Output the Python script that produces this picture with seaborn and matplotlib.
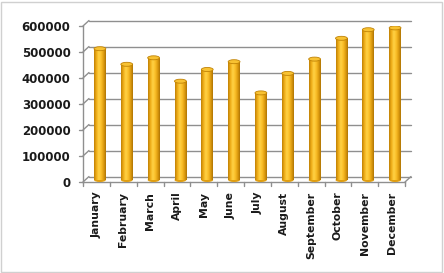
import numpy as np
import pandas as pd
import matplotlib
matplotlib.use("Agg")
import matplotlib.pyplot as plt
import matplotlib.transforms as mtransforms
from matplotlib.colors import LinearSegmentedColormap
from matplotlib.patches import Ellipse, Rectangle
from matplotlib.lines import Line2D
import seaborn as sns

months = ["January", "February", "March", "April", "May", "June", "July",
          "August", "September", "October", "November", "December"]
values = [505000, 445000, 470000, 380000, 425000, 455000, 335000,
          410000, 465000, 545000, 578000, 585000]
yticks = [0, 100000, 200000, 300000, 400000, 500000, 600000]

df = pd.DataFrame({"month": months, "value": values})

sns.set_style("white")
plt.rcParams['font.family'] = ['DejaVu Sans']

W, H = 444, 273
fig = plt.figure(figsize=(W / 100, H / 100), dpi=100)
fig.patch.set_facecolor("white")
# outer border
fig.add_artist(Rectangle((1 / W, 1 / H), 1 - 3 / W, 1 - 3 / H, transform=fig.transFigure,
                         fill=False, edgecolor="#d0d0d0", linewidth=1.0))

x0, x1 = 83, 405
yb, yt = 182, 26
ax = fig.add_axes([x0 / W, (H - yb) / H, (x1 - x0) / W, (yb - yt) / H])
ax.set_facecolor("none")

sns.barplot(data=df, x="month", y="value", ax=ax, color="#F5B520",
            width=0.44, saturation=1, edgecolor="none", zorder=3)
ax.set_xlim(-0.5, len(months) - 0.5)
ax.set_ylim(0, 600000)

# depth offsets (pixels)
dx_bar, dy_bar = 3.5 / 100, 2 / 100
dx_back, dy_back = 6 / 100, 5.5 / 100
bar_off = mtransforms.ScaledTranslation(dx_bar, dy_bar, fig.dpi_scale_trans)
back_off = mtransforms.ScaledTranslation(dx_back, dy_back, fig.dpi_scale_trans)

# back-wall gridlines
for v in yticks:
    ax.plot([-0.5, len(months) - 0.5], [v, v], color="#8f8f8f", lw=1.0,
            transform=ax.transData + back_off, zorder=1, clip_on=False)

fig.canvas.draw()
ident = mtransforms.IdentityTransform()
# left wall diagonals and small ticks
for v in yticks:
    p = ax.transData.transform((-0.5, v))
    fig.add_artist(Line2D([p[0], p[0] + 6], [p[1], p[1] + 5.5],
                          transform=ident, color="#8f8f8f", lw=1.0))
    fig.add_artist(Line2D([p[0] - 4, p[0]], [p[1], p[1]],
                          transform=ident, color="#8f8f8f", lw=1.0))
# floor right diagonal
pr = ax.transData.transform((len(months) - 0.5, 0))
fig.add_artist(Line2D([pr[0], pr[0] + 6], [pr[1], pr[1] + 5.5],
                      transform=ident, color="#8f8f8f", lw=1.0))

# category separator ticks on the floor front edge
for i in range(len(months) + 1):
    p = ax.transData.transform((i - 0.5, 0))
    fig.add_artist(Line2D([p[0], p[0]], [p[1], p[1] - 4],
                          transform=ident, color="#8f8f8f", lw=1.0))

# cylinder shading for the bars
cmap = LinearSegmentedColormap.from_list(
    "cyl", ["#BF8005", "#F0AE18", "#FFD145", "#FBC02A", "#E09E10", "#B07504"])
grad = np.linspace(0, 1, 64).reshape(1, -1)
ell_h = 600000 * 4 / (yb - yt)
for patch in list(ax.patches):
    patch.set_transform(ax.transData + bar_off)
    x = patch.get_x()
    w = patch.get_width()
    h = patch.get_height()
    im = ax.imshow(grad, extent=[x, x + w, 0, h], aspect="auto", cmap=cmap,
                   transform=ax.transData + bar_off, zorder=4, interpolation="bilinear")
    im.set_clip_path(patch)
    ax.add_patch(Ellipse((x + w / 2, h), w, ell_h, facecolor="#F8C232",
                         edgecolor="#C08205", lw=0.6, zorder=5,
                         transform=ax.transData + bar_off))
    ax.add_patch(Ellipse((x + w / 2, 0), w, ell_h, facecolor="#E09E10",
                         edgecolor="none", zorder=3.5,
                         transform=ax.transData + bar_off))

ax.set_xlim(-0.5, len(months) - 0.5)
ax.set_ylim(0, 600000)

# axes appearance
for s in ["top", "right"]:
    ax.spines[s].set_visible(False)
for s in ["left", "bottom"]:
    ax.spines[s].set_color("#8f8f8f")
    ax.spines[s].set_linewidth(1.0)
ax.set_yticks(yticks)
ax.set_yticklabels([str(v) for v in yticks], fontsize=8.5, fontweight="bold", color="#1a1a1a")
ax.set_xticks(range(len(months)))
ax.set_xticklabels(months, rotation=90, fontsize=7.8, fontweight="bold", color="#1a1a1a")
ax.tick_params(axis="y", length=0, pad=9)
ax.tick_params(axis="x", length=0, pad=7)
ax.set_xlabel("")
ax.set_ylabel("")

fig.savefig("out.png", dpi=100, facecolor="white")
